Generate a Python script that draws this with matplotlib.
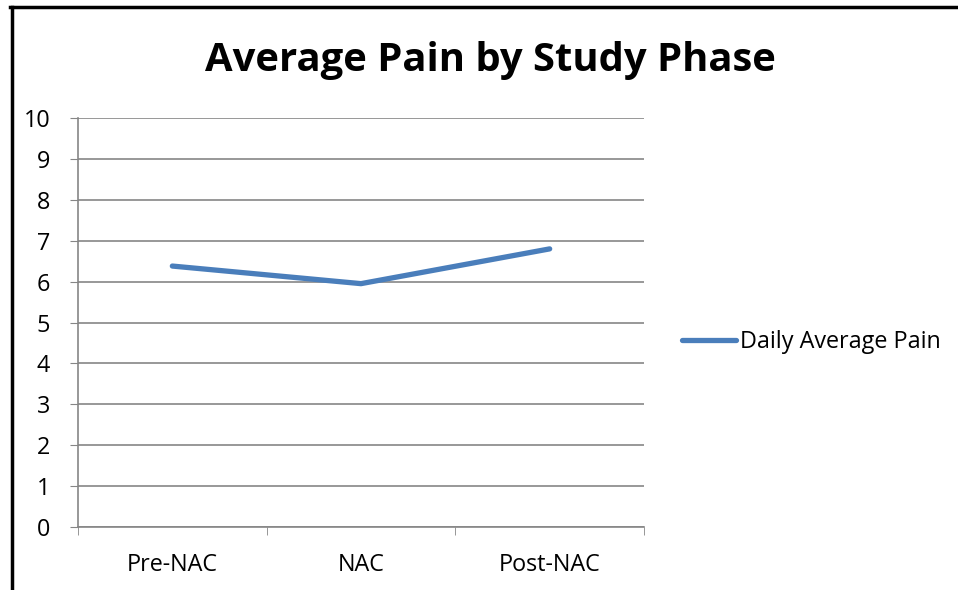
#!/usr/bin/env python3
import matplotlib
matplotlib.use("Agg")
import matplotlib.pyplot as plt
from matplotlib.lines import Line2D


PHASES = ["Pre-NAC", "NAC", "Post-NAC"]
DAILY_AVG_PAIN = [6.38, 5.95, 6.80]
Y_TICKS = [0, 1, 2, 3, 4, 5, 6, 7, 8, 9, 10]
SERIES_LABEL = "Daily Average Pain"
TITLE = "Average Pain by Study Phase"

GRID_COLOR = "#868686"
LINE_COLOR = "#4A7EBB"
LABEL_SIZE = 16.8


def main():
    plt.rcParams["font.family"] = ["Open Sans", "DejaVu Sans"]

    fig = plt.figure(figsize=(9.58, 5.90), dpi=100)
    ax = fig.add_axes([78 / 958, 1 - 527 / 590, (644 - 78) / 958, (527 - 118) / 590])

    x = list(range(len(PHASES)))
    ax.plot(x, DAILY_AVG_PAIN, color=LINE_COLOR, linewidth=3.8,
            solid_capstyle="round", solid_joinstyle="round", label=SERIES_LABEL,
            zorder=3)

    ax.set_xlim(-0.5, len(PHASES) - 0.5)
    ax.set_ylim(0, 10)
    ax.set_yticks(Y_TICKS)
    ax.set_yticklabels([str(v) for v in Y_TICKS], fontsize=LABEL_SIZE)
    ax.set_xticks(x)
    ax.set_xticklabels(PHASES, fontsize=LABEL_SIZE)
    ax.set_xticks([i - 0.5 for i in range(len(PHASES) + 1)], minor=True)
    ax.tick_params(axis="x", which="major", length=0, pad=19)
    ax.tick_params(axis="x", which="minor", length=6, color=GRID_COLOR, direction="out")
    ax.tick_params(axis="y", length=6, color=GRID_COLOR, direction="out", pad=14)

    ax.yaxis.grid(True, color=GRID_COLOR, linewidth=1.2)
    ax.set_axisbelow(True)
    for side in ("top", "right"):
        ax.spines[side].set_visible(False)
    for side in ("left", "bottom"):
        ax.spines[side].set_color(GRID_COLOR)
        ax.spines[side].set_linewidth(1.2)

    fig.text(490 / 958, 1 - 60 / 590, TITLE, ha="center", va="center",
             fontsize=28.8, fontweight="bold")

    ax.legend(loc="center left", bbox_to_anchor=(682 / 958, 1 - 342 / 590),
              bbox_transform=fig.transFigure, frameon=False, fontsize=LABEL_SIZE,
              handlelength=2.3, handletextpad=0.2, borderpad=0, borderaxespad=0)

    # chart frame (only left and top edges show in the crop)
    fig.add_artist(Line2D([11.5 / 958, 11.5 / 958], [0, 1 - 7 / 590],
                          color="black", linewidth=2.5, transform=fig.transFigure))
    fig.add_artist(Line2D([10 / 958, 1], [1 - 7 / 590, 1 - 7 / 590],
                          color="black", linewidth=2.5, transform=fig.transFigure))

    fig.savefig("out.png", dpi=100)
    plt.close(fig)


if __name__ == "__main__":
    main()
